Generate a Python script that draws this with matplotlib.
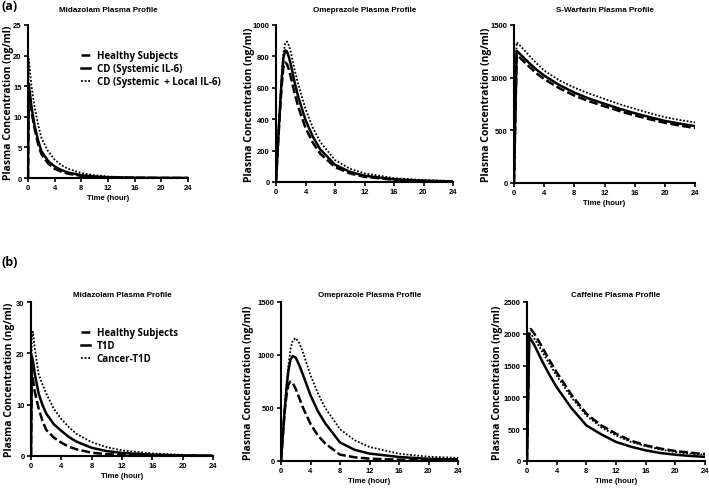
import matplotlib
matplotlib.use("Agg")
import matplotlib.pyplot as plt

# ---- data ----
hours = [0, 4, 8, 12, 16, 20, 24]

# (a) Midazolam
t_mdz_a = [0, 0.1, 0.25, 0.5, 1, 1.5, 2, 3, 4, 5, 6, 8, 10, 12, 16, 20, 24]
mdz_a_healthy = [0, 15.0, 13.5, 11.0, 8.0, 5.6, 3.9, 2.4, 1.5, 1.05, 0.7, 0.35, 0.18, 0.1, 0.03, 0.01, 0.005]
mdz_a_sys = [0, 15.5, 14.2, 11.8, 8.5, 6.2, 4.4, 2.8, 1.9, 1.3, 0.9, 0.45, 0.24, 0.12, 0.04, 0.015, 0.005]
mdz_a_local = [0, 19.5, 18.0, 15.2, 11.5, 8.8, 6.6, 4.4, 3.0, 2.1, 1.5, 0.8, 0.45, 0.25, 0.08, 0.03, 0.01]

# (a) Omeprazole
t_ome_a = [0, 0.25, 0.5, 0.75, 1, 1.25, 1.5, 1.75, 2, 2.5, 3, 4, 5, 6, 8, 10, 12, 16, 20, 24]
ome_a_healthy = [0, 220, 420, 600, 730, 762, 750, 715, 670, 570, 480, 345, 250, 180, 95, 55, 33, 14, 6, 3]
ome_a_sys = [0, 230, 440, 640, 790, 838, 830, 795, 750, 640, 545, 395, 288, 208, 110, 65, 40, 17, 8, 4]
ome_a_local = [0, 235, 450, 660, 820, 885, 895, 870, 830, 720, 625, 465, 345, 255, 140, 85, 55, 25, 12, 6]

# (a) S-Warfarin
t_war = [0, 0.35, 1, 2, 3, 4, 6, 8, 10, 12, 14, 16, 18, 20, 22, 24]
war_healthy = [0, 1220, 1175, 1105, 1040, 987, 900, 830, 775, 728, 683, 642, 605, 572, 545, 522]
war_sys = [0, 1255, 1210, 1140, 1075, 1020, 930, 858, 800, 752, 705, 663, 625, 590, 563, 540]
war_local = [0, 1335, 1290, 1210, 1135, 1068, 975, 905, 848, 798, 748, 705, 663, 625, 598, 575]

# (b) Midazolam
t_mdz_b = [0, 0.1, 0.25, 0.5, 1, 1.5, 2, 3, 4, 5, 6, 8, 10, 12, 16, 20, 24]
mdz_b_healthy = [0, 17.0, 15.0, 12.5, 9.3, 6.9, 5.1, 3.6, 2.6, 1.8, 1.3, 0.65, 0.35, 0.22, 0.1, 0.04, 0.02]
mdz_b_t1d = [0, 19.5, 18.5, 16.0, 12.2, 10.0, 8.3, 6.2, 4.9, 3.7, 2.8, 1.6, 0.95, 0.6, 0.25, 0.1, 0.05]
mdz_b_cancer = [0, 23.0, 24.2, 21.0, 16.0, 14.0, 12.2, 9.2, 7.2, 5.6, 4.3, 2.7, 1.7, 1.1, 0.5, 0.22, 0.1]

# (b) Omeprazole
t_ome_b = [0, 0.25, 0.5, 0.75, 1, 1.3, 1.6, 2, 2.5, 3, 4, 5, 6, 8, 10, 12, 16, 20, 24]
ome_b_healthy = [0, 240, 470, 620, 720, 750, 735, 680, 590, 500, 350, 240, 165, 60, 35, 22, 12, 6, 5]
ome_b_t1d = [0, 245, 480, 690, 850, 960, 990, 975, 900, 810, 620, 470, 355, 175, 105, 70, 38, 20, 15]
ome_b_cancer = [0, 255, 500, 720, 900, 1060, 1140, 1160, 1110, 1020, 810, 640, 500, 300, 195, 132, 69, 40, 30]

# (b) Caffeine
t_caf = [0, 0.3, 0.5, 1, 2, 3, 4, 6, 8, 10, 12, 14, 16, 18, 20, 22, 24]
caf_healthy = [0, 2050, 2075, 2000, 1800, 1590, 1395, 1040, 745, 560, 430, 320, 245, 195, 157, 130, 110]
caf_t1d = [0, 1940, 1920, 1820, 1580, 1360, 1160, 830, 560, 420, 300, 225, 167, 125, 99, 80, 65]
caf_cancer = [0, 1990, 2000, 1920, 1730, 1530, 1340, 1000, 715, 530, 402, 300, 235, 180, 141, 118, 98]

labels_a = ["Healthy Subjects", "CD (Systemic IL-6)", "CD (Systemic  + Local IL-6)"]
labels_b = ["Healthy Subjects", "T1D", "Cancer-T1D"]

W, H = 709, 489
fig = plt.figure(figsize=(W / 100, H / 100), dpi=100)

narrow = ["Liberation Sans Narrow", "Liberation Sans", "DejaVu Sans"]
wide = ["Open Sans", "DejaVu Sans"]


def make_ax(x0, x1, y0, y1):
    # pixel box -> figure fraction
    return fig.add_axes([x0 / W, (H - y1) / H, (x1 - x0) / W, (y1 - y0) / H])


def draw(ax, box, t, series, ymax, yticks, title, ylab_px, pad, time_label=True):
    styles = [dict(ls=(0, (3.5, 1.3)), lw=1.8),
              dict(ls="-", lw=1.8),
              dict(ls=(0, (1, 1)), lw=1.3)]
    for y, st in zip(series, styles):
        ax.plot(t, y, color="black", **st)
    ax.set_xlim(0, 24)
    ax.set_ylim(0, ymax)
    ax.set_xticks(hours)
    ax.set_yticks(yticks)
    for s in ["top", "right"]:
        ax.spines[s].set_visible(False)
    for s in ["left", "bottom"]:
        ax.spines[s].set_linewidth(1.5)
    ax.tick_params(direction="out", length=3, width=1.2, pad=1.5)
    for lab in ax.get_xticklabels() + ax.get_yticklabels():
        lab.set_fontfamily(narrow)
        lab.set_fontweight("bold")
        lab.set_fontsize(5.5)
    ax.set_title(title, fontsize=5.8, fontweight="bold", family=narrow, pad=pad)
    ax.set_ylabel("Plasma Concentration (ng/ml)", fontsize=7.5, fontweight="bold", family=wide)
    ax.yaxis.set_label_coords((ylab_px - box[0]) / (box[1] - box[0]), 0.5)
    if time_label:
        ax.set_xlabel("Time (hour)", fontsize=5.6, fontweight="bold", family=narrow, labelpad=2)


box_a1, box_a2, box_a3 = (28, 188, 26, 179), (276, 453, 26, 183), (514, 695, 26, 184)
box_b1, box_b2, box_b3 = (31, 213, 303, 457), (281, 458, 303, 462), (527, 705, 303, 462)

a1 = make_ax(*box_a1)
draw(a1, box_a1, t_mdz_a, [mdz_a_healthy, mdz_a_sys, mdz_a_local], 25, [0, 5, 10, 15, 20, 25],
     "Midazolam Plasma Profile", 14, 10)
a2 = make_ax(*box_a2)
draw(a2, box_a2, t_ome_a, [ome_a_healthy, ome_a_sys, ome_a_local], 1000, [0, 200, 400, 600, 800, 1000],
     "Omeprazole Plasma Profile", 255, 10, time_label=False)
a3 = make_ax(*box_a3)
draw(a3, box_a3, t_war, [war_healthy, war_sys, war_local], 1500, [0, 500, 1000, 1500],
     "S-Warfarin Plasma Profile", 492, 10)

b1 = make_ax(*box_b1)
draw(b1, box_b1, t_mdz_b, [mdz_b_healthy, mdz_b_t1d, mdz_b_cancer], 30, [0, 10, 20, 30],
     "Midazolam Plasma Profile", 15, 4)
b2 = make_ax(*box_b2)
draw(b2, box_b2, t_ome_b, [ome_b_healthy, ome_b_t1d, ome_b_cancer], 1500, [0, 500, 1000, 1500],
     "Omeprazole Plasma Profile", 254, 4)
b3 = make_ax(*box_b3)
draw(b3, box_b3, t_caf, [caf_healthy, caf_t1d, caf_cancer], 2500, [0, 500, 1000, 1500, 2000, 2500],
     "Caffeine Plasma Profile", 503, 4)

for ax, labels, anchor in [(a1, labels_a, (0.31, 0.86)), (b1, labels_b, (0.255, 0.86))]:
    ax.legend(ax.get_lines(), labels, loc="upper left", bbox_to_anchor=anchor,
              frameon=False, handlelength=0.9, handletextpad=0.7, labelspacing=0.2,
              borderaxespad=0, prop=dict(family=wide, weight="bold", size=7))

fig.text(2 / W, 1 - 7 / H, "(a)", fontsize=9, fontweight="bold", family=wide, va="center")
fig.text(2 / W, 1 - 263 / H, "(b)", fontsize=9, fontweight="bold", family=wide, va="center")

fig.savefig("out.png", dpi=100)
